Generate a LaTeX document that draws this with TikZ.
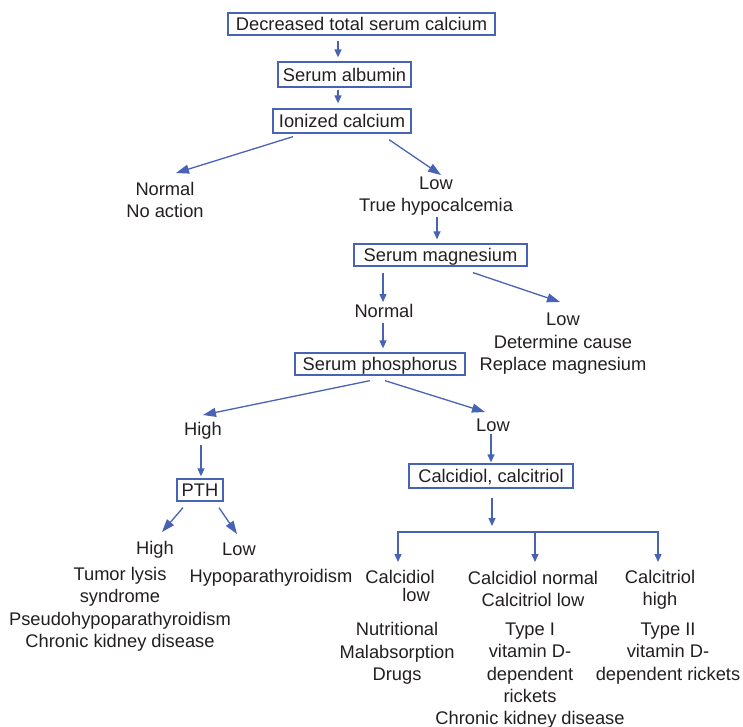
\documentclass[tikz,border=0pt]{standalone}
\usepackage{fontspec}
\setmainfont{Liberation Sans}
\usetikzlibrary{arrows.meta}
\definecolor{lineblue}{RGB}{72,99,180}
\definecolor{txt}{RGB}{35,31,32}
\begin{document}
\begin{tikzpicture}[x=1pt,y=-1pt,
  every node/.style={font=\fontsize{18.3}{22.4}\selectfont, text=txt},
  box/.style={draw=lineblue, line width=1.3pt, inner sep=0pt, text height=13.3pt, text depth=0pt, minimum height=22pt},
  lbl/.style={align=center, inner sep=0pt, anchor=north},
  arr/.style={draw=lineblue, line width=1.3pt, -{Triangle[length=8pt,width=7pt]}},
  darr/.style={draw=lineblue, line width=1.3pt, -{Triangle[length=13pt,width=9pt]}},
]
\useasboundingbox (0,0) rectangle (743,726);

% boxes
\node[box, minimum width=267pt] (b1) at (361.5,24) {Decreased total serum calcium};
\node[box, minimum width=133pt, minimum height=25pt] (b2) at (344.5,74.5) {Serum albumin};
\node[box, minimum width=138pt, minimum height=24pt] (b3) at (342,121) {Ionized calcium};
\node[box, minimum width=173pt] (b4) at (440.5,255) {Serum magnesium};
\node[box, minimum width=170pt] (b5) at (380,364) {Serum phosphorus};
\node[box, minimum width=46pt] (b6) at (200,490) {PTH};
\node[box, minimum width=164pt, minimum height=24pt] (b7) at (491,476) {Calcidiol, calcitriol};

% labels
\node[lbl] (t1) at (165,182) {Normal\\No action};
\node[lbl] (t2) at (436,176.5) {Low\\True hypocalcemia};
\node[lbl] (t3) at (384,304.5) {Normal};
\node[lbl] (t4) at (563,313) {Low\\Determine cause\\Replace magnesium};
\node[lbl] (t5) at (203,422.5) {High};
\node[lbl] (t6) at (493,419) {Low};
\node[lbl] (t7) at (155,541.5) {High};
\node[lbl] (t8) at (239,543) {Low};
\node[lbl] (t9) at (120,567) {Tumor lysis\\syndrome\\Pseudohypoparathyroidism\\Chronic kidney disease};
\node[lbl] (t10) at (271,569) {Hypoparathyroidism};
\node[lbl] (t11) at (400,570) {Calcidiol\\[-4pt]\hspace*{32pt}low};
\node[lbl] (t12) at (533,571) {Calcidiol normal\\Calcitriol low};
\node[lbl] (t13) at (660,570) {Calcitriol\\high};
\node[lbl] (t14) at (397,622.5) {Nutritional\\Malabsorption\\Drugs};
\node[lbl] (t15) at (530,622.5) {Type I\\vitamin D-\\dependent\\rickets\\Chronic kidney disease};
\node[lbl] (t16) at (668,622.5) {Type II\\vitamin D-\\dependent rickets};

% junctions
\coordinate (j0) at (492,526);
\coordinate (j1) at (398,532);
\coordinate (j2) at (535,532);
\coordinate (j3) at (658,532);

% connectors
\draw[arr] ([xshift=-23.5pt,yshift=-5pt]b1.south) -- ([xshift=-6.5pt,yshift=4pt]b2.north);
\draw[arr] ([xshift=-6.5pt,yshift=-2pt]b2.south) -- ([xshift=-4pt,yshift=5pt]b3.north);
\draw[darr] ([xshift=-49pt,yshift=-3pt]b3.south) -- ([xshift=11pt,yshift=9pt]t1.north);
\draw[darr] ([xshift=47pt,yshift=-6pt]b3.south) -- ([xshift=5pt,yshift=1.5pt]t2.north);
\draw[arr] ([xshift=1pt,yshift=-1pt]t2.south) -- ([xshift=-3.5pt,yshift=4pt]b4.north);
\draw[arr] ([xshift=-57.5pt,yshift=-6pt]b4.south) -- ([xshift=-1pt,yshift=2.5pt]t3.north);
\draw[arr] ([xshift=-1pt,yshift=-5pt]t3.south) -- ([xshift=3pt,yshift=4pt]b5.north);
\draw[darr] ([xshift=32.5pt,yshift=-6pt]b4.south) -- ([xshift=-3pt,yshift=11pt]t4.north);
\draw[darr] ([xshift=-10pt,yshift=-5pt]b5.south) -- ([xshift=0pt,yshift=7.5pt]t5.north);
\draw[darr] ([xshift=5pt,yshift=-5pt]b5.south) -- ([xshift=-8pt,yshift=7pt]t6.north);
\draw[arr] ([xshift=-2pt,yshift=-5pt]t5.south) -- ([xshift=1pt,yshift=2pt]b6.north);
\draw[arr] ([xshift=-2pt,yshift=-1.5pt]t6.south) -- ([yshift=1pt]b7.north);
\draw[darr] ([xshift=-17pt,yshift=-6pt]b6.south) -- ([xshift=7pt,yshift=9.5pt]t7.north);
\draw[darr] ([xshift=19pt,yshift=-6pt]b6.south) -- ([xshift=-2pt,yshift=9pt]t8.north);
\draw[arr] ([xshift=1pt,yshift=-9pt]b7.south) -- (j0);
\draw[draw=lineblue, line width=1.3pt, {Triangle[length=8pt,width=7pt]}-{Triangle[length=8pt,width=7pt]}]
  ([xshift=-2pt,yshift=8pt]t11.north) -- (j1) -- (j3) -- ([xshift=-2pt,yshift=8pt]t13.north);
\draw[arr] (j2) -- ([xshift=2pt,yshift=9pt]t12.north);
\end{tikzpicture}
\end{document}
